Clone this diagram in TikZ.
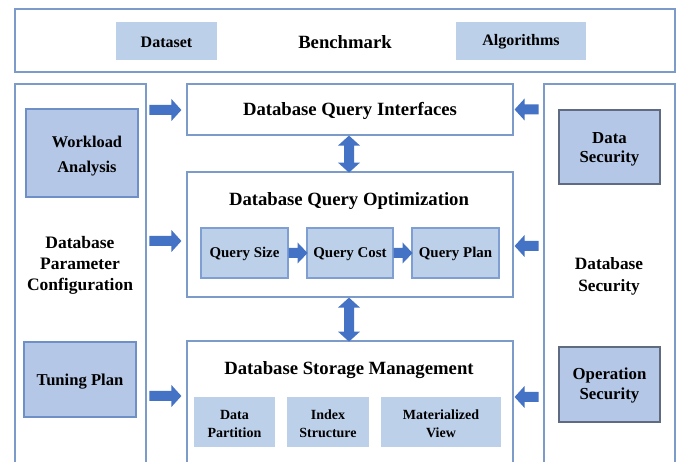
\documentclass[tikz,border=0pt]{standalone}
\usepackage{fontspec}
\setmainfont{Liberation Serif}
\usetikzlibrary{calc}
\definecolor{lightfill}{HTML}{BDD0EA}
\definecolor{midfill}{HTML}{B4C7E7}
\definecolor{outerline}{HTML}{7C9BC9}
\definecolor{qline}{HTML}{7F9FD3}
\definecolor{wline}{HTML}{6F8FC7}
\definecolor{secline}{HTML}{5F6B80}
\definecolor{arrowc}{HTML}{4472C4}
\tikzset{
  outerbox/.style={draw=outerline, line width=1.2pt, fill=white, inner sep=0pt},
  plainfill/.style={fill=lightfill, inner sep=0pt},
  qbox/.style={draw=qline, line width=1.1pt, fill=lightfill, inner sep=0pt},
  wbox/.style={draw=wline, line width=1.1pt, fill=midfill, inner sep=0pt},
  secbox/.style={draw=secline, line width=1.1pt, fill=midfill, inner sep=0pt},
  lbl/.style={inner sep=0pt, align=center},
  titletext/.style={lbl, font=\fontsize{18.7}{21}\selectfont\bfseries},
  blockarrow/.style={fill=arrowc}
}
\begin{document}
\begin{tikzpicture}[x=1pt, y=-1pt]
\useasboundingbox (0,0) rectangle (678,462);
\clip (0,0) rectangle (678,462);
\fill[white] (0,0) rectangle (678,462);

% top benchmark box
\node[outerbox, minimum width=660, minimum height=63] (top) at (345,40.5) {};
\node[plainfill, minimum width=101, minimum height=38] (ds) at (166.5,41) {};
\node[lbl, font=\fontsize{16}{18}\selectfont\bfseries] (dst) at (166.5,42) {Dataset};
\node[titletext] (bm) at (345,42) {Benchmark};
\node[plainfill, minimum width=130, minimum height=38] (alg) at (521,41) {};
\node[lbl, font=\fontsize{16}{18}\selectfont\bfseries] (algt) at (521,42) {Algorithms};

% side panels
\node[outerbox, minimum width=131, minimum height=400] (lp) at (80.5,284) {};
\node[outerbox, minimum width=131, minimum height=400] (rp) at (609.5,284) {};

% left panel content
\node[wbox, minimum width=112, minimum height=88] (wl) at (82,153) {};
\node[lbl, font=\fontsize{16.4}{25}\selectfont\bfseries] (wlt) at (87,156) {Workload\\Analysis};
\node[lbl, font=\fontsize{17.5}{21}\selectfont\bfseries] (dpc) at (80,265) {Database\\Parameter\\Configuration};
\node[wbox, minimum width=112, minimum height=75] (tp) at (80,379.5) {};
\node[lbl, font=\fontsize{16.6}{19}\selectfont\bfseries] (tpt) at (80,381.5) {Tuning Plan};

% right panel content
\node[secbox, minimum width=101, minimum height=74] (dsec) at (609.5,147) {};
\node[lbl, font=\fontsize{16.8}{19}\selectfont\bfseries] (dsect) at (609.5,149) {Data\\Security};
\node[lbl, font=\fontsize{17.3}{22}\selectfont\bfseries] (dbs) at (609,276) {Database\\Security};
\node[secbox, minimum width=101, minimum height=75] (osec) at (609.5,384.5) {};
\node[lbl, font=\fontsize{16.8}{20}\selectfont\bfseries] (osect) at (609.5,385.5) {Operation\\Security};

% centre boxes
\node[outerbox, minimum width=326, minimum height=51] (qi) at (350,109.5) {};
\node[titletext] (qit) at (350,111) {Database Query Interfaces};

\node[outerbox, minimum width=326, minimum height=125] (qo) at (350,234.5) {};
\node[titletext] (qot) at (349,201.5) {Database Query Optimization};
\node[qbox, minimum width=87, minimum height=50] (qs) at (244.5,253) {};
\node[qbox, minimum width=86, minimum height=50] (qc) at (350,253) {};
\node[qbox, minimum width=87, minimum height=50] (qp) at (455.5,253) {};
\node[lbl, anchor=base, font=\fontsize{14.9}{17}\selectfont\bfseries] (qst) at (244.5,258) {Query Size};
\node[lbl, anchor=base, font=\fontsize{14.9}{17}\selectfont\bfseries] (qct) at (350,258) {Query Cost};
\node[lbl, anchor=base, font=\fontsize{14.9}{17}\selectfont\bfseries] (qpt) at (455.5,258) {Query Plan};

\node[outerbox, minimum width=326, minimum height=145] (sm) at (350,413.5) {};
\node[titletext] (smt) at (349,370.5) {Database Storage Management};
\node[plainfill, minimum width=81, minimum height=50] (dp) at (234.5,422) {};
\node[plainfill, minimum width=82, minimum height=50] (is) at (328,422) {};
\node[plainfill, minimum width=120, minimum height=50] (mv) at (441,422) {};
\node[lbl, font=\fontsize{14}{18}\selectfont\bfseries] (dpt) at (234.5,424) {Data\\Partition};
\node[lbl, font=\fontsize{14}{18}\selectfont\bfseries] (ist) at (328,424) {Index\\Structure};
\node[lbl, font=\fontsize{14}{18}\selectfont\bfseries] (mvt) at (441,424) {Materialized\\View};

% left block arrows (tip at box west - 5)
\foreach \tgt/\dy in {qi/0.5, qo/6.5, sm/-17.5}{
  \fill[blockarrow] ($(\tgt.west)+(-5,\dy)$) -- ++(-10,-11) -- ++(0,6) -- ++(-22,0) -- ++(0,10) -- ++(22,0) -- ++(0,6) -- cycle;
}
% right block arrows (tip at box east + 1)
\foreach \tgt/\dy in {qi/0, qo/11.5, sm/-16.5}{
  \fill[blockarrow] ($(\tgt.east)+(1,\dy)$) -- ++(10,-11) -- ++(0,6) -- ++(14,0) -- ++(0,10) -- ++(-14,0) -- ++(0,6) -- cycle;
}
% small arrows between query boxes
\foreach \a in {qs,qc}{
  \fill[blockarrow] (\a.east) ++(0,-5) -- ++(9,0) -- ++(0,-5.5) -- ++(10,10.5) -- ++(-10,10.5) -- ++(0,-5.5) -- ++(-9,0) -- cycle;
}
% vertical double arrows
\fill[blockarrow] ($(qi.south)+(-1,0)$) -- ++(11,10) -- ++(-6,0) -- ++(0,17) -- ++(6,0) -- ++(-11,10) -- ++(-11,-10) -- ++(6,0) -- ++(0,-17) -- ++(-6,0) -- cycle;
\fill[blockarrow] ($(qo.south)+(-1,0)$) -- ++(11,10) -- ++(-6,0) -- ++(0,24) -- ++(6,0) -- ++(-11,10) -- ++(-11,-10) -- ++(6,0) -- ++(0,-24) -- ++(-6,0) -- cycle;
\end{tikzpicture}
\end{document}
